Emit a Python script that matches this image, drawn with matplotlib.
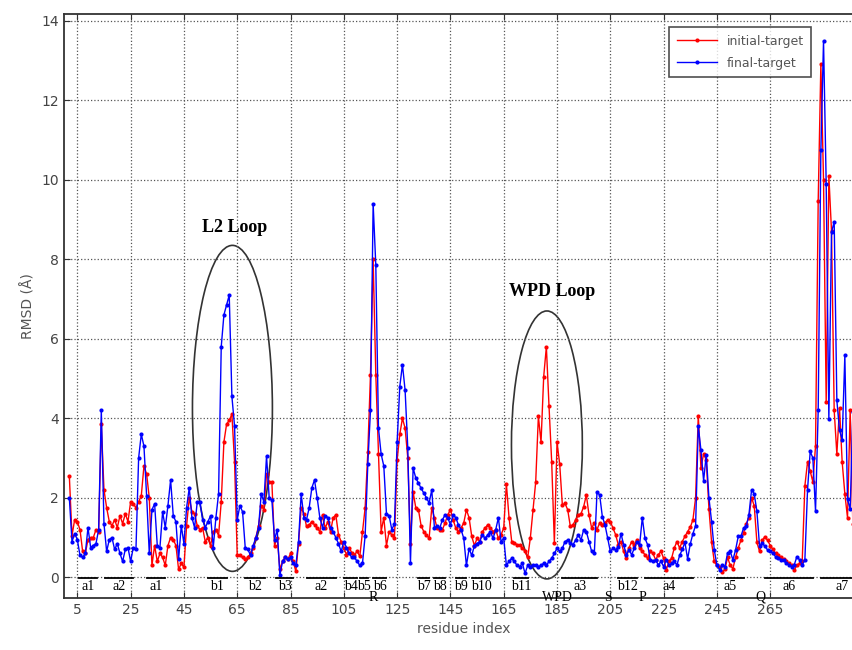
import numpy as np
import matplotlib
matplotlib.use('Agg')
import matplotlib.pyplot as plt
from matplotlib.patches import Ellipse

# RMSD per residue, starting at residue 2
final_target = [
    2.0, 0.9, 1.1, 0.95, 0.55, 0.5, 0.6, 1.25, 0.75, 0.8,
    0.85, 1.2, 4.2, 1.35, 0.65, 0.95, 1.0, 0.7, 0.85, 0.6,
    0.4, 0.7, 0.75, 0.4, 0.75, 0.7, 3.0, 3.6, 3.3, 2.05,
    0.6, 1.7, 1.85, 0.8, 0.75, 1.65, 1.25, 1.8, 2.45, 1.55,
    1.4, 0.45, 1.3, 0.85, 1.75, 2.25, 1.5, 1.25, 1.9, 1.9,
    1.45, 1.25, 1.4, 1.55, 0.75, 1.5, 2.1, 5.8, 6.6, 6.85,
    7.1, 4.55, 3.8, 1.45, 1.8, 1.65, 0.75, 0.7, 0.55, 0.8,
    1.0, 1.25, 2.1, 1.9, 3.05, 2.0, 1.95, 0.95, 1.2, 0.05,
    0.4, 0.5, 0.45, 0.5, 0.35, 0.3, 0.9, 2.1, 1.5, 1.45,
    1.75, 2.25, 2.45, 2.0, 1.5, 1.25, 1.55, 1.5, 1.25, 1.15,
    1.0, 0.85, 0.65, 0.9, 0.75, 0.6, 0.5, 0.5, 0.4, 0.3,
    0.35, 1.05, 2.85, 4.2, 9.4, 7.85, 3.75, 3.1, 2.8, 1.6,
    1.55, 1.2, 1.35, 3.4, 4.8, 5.35, 4.7, 3.25, 0.35, 2.75,
    2.5, 2.37, 2.24, 2.12, 2.0, 1.87, 2.2, 1.24, 1.3, 1.24,
    1.45, 1.57, 1.5, 1.32, 1.57, 1.5, 1.32, 1.2, 0.98, 0.3,
    0.72, 0.55, 0.8, 0.85, 0.9, 1.07, 0.98, 1.07, 1.15, 0.98,
    1.2, 1.5, 0.9, 0.98, 0.3, 0.4, 0.48, 0.4, 0.3, 0.27,
    0.35, 0.1, 0.3, 0.27, 0.3, 0.3, 0.27, 0.3, 0.35, 0.3,
    0.4, 0.48, 0.6, 0.73, 0.65, 0.73, 0.9, 0.94, 0.86, 0.82,
    0.94, 1.07, 0.94, 1.2, 1.15, 0.9, 0.65, 0.6, 2.15, 2.07,
    1.53, 1.32, 0.98, 0.65, 0.73, 0.69, 0.77, 1.1, 0.82, 0.57,
    0.69, 0.57, 0.73, 0.9, 0.82, 1.5, 0.98, 0.82, 0.44, 0.4,
    0.44, 0.31, 0.4, 0.27, 0.44, 0.31, 0.35, 0.4, 0.31, 0.55,
    0.7, 0.88, 0.46, 0.84, 1.1, 1.3, 3.8, 3.2, 2.43, 3.08,
    2.0, 1.4, 0.69, 0.31, 0.19, 0.31, 0.27, 0.61, 0.65, 0.44,
    0.69, 1.03, 1.03, 1.24, 1.28, 1.57, 2.2, 2.1, 1.66, 0.78,
    0.86, 0.78, 0.69, 0.65, 0.61, 0.52, 0.48, 0.44, 0.44, 0.36,
    0.31, 0.27, 0.31, 0.52, 0.44, 0.31, 0.44, 2.2, 3.17, 3.0,
    1.66, 4.2, 10.74, 13.5, 9.9, 3.98, 8.68, 8.95, 4.45, 3.7,
    3.46, 5.58, 1.96, 1.72, 4.17, 5.48, 3.0,
]

initial_target = [
    2.55, 1.05, 1.45, 1.4, 1.2, 0.65, 0.6, 0.95, 1.0, 1.0,
    1.2, 1.15, 3.85, 2.2, 1.75, 1.4, 1.3, 1.45, 1.25, 1.55,
    1.35, 1.6, 1.4, 1.9, 1.85, 1.75, 1.9, 2.05, 2.8, 2.6,
    2.0, 0.3, 0.8, 0.4, 0.6, 0.5, 0.3, 0.8, 1.0, 0.95,
    0.8, 0.2, 0.35, 0.25, 1.3, 2.0, 1.65, 1.6, 1.3, 1.2,
    1.25, 0.9, 1.0, 0.8, 1.15, 1.2, 1.05, 1.9, 3.4, 3.85,
    3.95, 4.1, 2.9, 0.55, 0.55, 0.5, 0.45, 0.5, 0.6, 0.75,
    1.0, 1.3, 1.8, 1.7, 2.6, 2.4, 2.4, 0.8, 1.0, 0.2,
    0.4, 0.5, 0.45, 0.6, 0.4, 0.15, 0.85, 1.75, 1.6, 1.28,
    1.32, 1.4, 1.32, 1.24, 1.15, 1.57, 1.24, 1.4, 1.15, 1.5,
    1.57, 1.07, 0.9, 0.74, 0.57, 0.74, 0.62, 0.57, 0.65, 0.53,
    1.15, 1.75, 3.15, 5.1, 8.0, 5.1, 3.1, 1.15, 1.5, 0.8,
    1.15, 1.07, 0.98, 2.95, 3.6, 4.0, 3.75, 3.0, 0.85, 2.15,
    1.75, 1.7, 1.3, 1.15, 1.07, 0.98, 1.75, 1.5, 1.24, 1.2,
    1.2, 1.37, 1.57, 1.7, 1.45, 1.24, 1.15, 1.24, 1.37, 1.7,
    1.5, 1.03, 0.8, 0.98, 0.9, 1.15, 1.24, 1.32, 1.24, 1.15,
    1.2, 0.98, 1.07, 1.24, 2.35, 1.5, 0.9, 0.86, 0.82, 0.82,
    0.74, 0.65, 0.5, 1.0, 1.7, 2.4, 4.05, 3.4, 5.05, 5.8,
    4.3, 2.9, 0.86, 3.4, 2.85, 1.82, 1.86, 1.7, 1.28, 1.32,
    1.45, 1.57, 1.6, 1.78, 2.07, 1.57, 1.24, 1.37, 1.2, 1.37,
    1.32, 1.37, 1.45, 1.4, 1.24, 1.07, 0.82, 0.9, 0.65, 0.48,
    0.74, 0.9, 0.82, 0.95, 0.74, 0.65, 0.57, 0.48, 0.65, 0.6,
    0.44, 0.57, 0.65, 0.48, 0.19, 0.4, 0.48, 0.74, 0.9, 0.74,
    0.9, 1.03, 1.15, 1.26, 1.45, 2.0, 4.07, 2.76, 3.1, 2.95,
    1.73, 0.88, 0.4, 0.3, 0.25, 0.13, 0.2, 0.5, 0.3, 0.22,
    0.5, 0.74, 0.93, 1.12, 1.35, 1.5, 2.0, 1.8, 0.88, 0.65,
    0.93, 1.02, 0.93, 0.8, 0.7, 0.6, 0.55, 0.5, 0.45, 0.4,
    0.35, 0.3, 0.18, 0.3, 0.35, 0.4, 2.3, 2.9, 2.67, 2.4,
    3.3, 9.47, 12.9, 10.0, 4.4, 10.1, 8.7, 4.2, 3.1, 4.26,
    2.9, 2.1, 1.5, 4.2, 1.35, 1.6, 1.5,
]

residues = np.arange(2, 2 + len(final_target))

# secondary structure elements: label, start, end
ss_labels = ['a1', 'a2', 'a1', 'b1', 'b2', 'b3', 'a2', 'b4', 'b5', 'b6',
             'b7', 'b8', 'b9', 'b10', 'b11', 'a3', 'b12', 'a4', 'a5', 'a6', 'a7']
ss_start = [5.5, 15.5, 31, 54, 68, 79.5, 91, 105, 111, 116,
            133, 139, 147, 153, 169, 187, 208, 218, 245, 263, 284]
ss_end = [12.5, 26, 38, 61, 75.5, 86, 102, 110, 114, 121,
          137, 143, 151, 160, 174, 200, 215, 236, 255, 281, 300]

# motifs under the axis
motif_labels = ['R', 'WPD', 'S', 'P', 'Q']
motif_pos = [116, 185, 204, 217, 261.5]

xtick_vals = list(range(5, 266, 20))
ytick_vals = list(range(0, 15, 2))

fig = plt.figure(figsize=(8.52, 6.5), dpi=100)
ax = fig.add_axes([64 / 852, 52 / 650, 799.5 / 852, 584 / 650])

ax.plot(residues, initial_target, color='red', marker='o', markersize=3,
        markeredgewidth=0, linewidth=1.0, label='initial-target')
ax.plot(residues, final_target, color='blue', marker='o', markersize=3,
        markeredgewidth=0, linewidth=1.0, label='final-target')

ax.set_xlim(0, 300)
ax.set_ylim(-0.52, 14.17)
ax.set_xticks(xtick_vals)
ax.set_yticks(ytick_vals)
ax.grid(True, linestyle=':', color='#555555', linewidth=0.9)
ax.tick_params(direction='in', top=True, right=True, length=4,
               labelsize=10, labelcolor='#444444', color='#333333')
for s in ax.spines.values():
    s.set_color('#333333')
    s.set_linewidth(1.3)

ax.set_xlabel('residue index', fontsize=10, color='#555555')
ax.set_ylabel('RMSD (Å)', fontsize=10, color='#555555')

# loops
ax.add_patch(Ellipse((63.2, 4.25), 30, 8.2, fill=False, edgecolor='#333333', linewidth=1.2))
ax.add_patch(Ellipse((181.2, 3.33), 26.6, 6.74, fill=False, edgecolor='#333333', linewidth=1.2))
ax.text(63.9, 8.8, 'L2 Loop', family='Liberation Serif', fontweight='bold',
        fontsize=13, ha='center', va='center')
ax.text(183, 7.2, 'WPD Loop', family='Liberation Serif', fontweight='bold',
        fontsize=13, ha='center', va='center')

# secondary structure bars and labels
for lab, a, b in zip(ss_labels, ss_start, ss_end):
    ax.plot([a, b], [-0.02, -0.02], color='black', linewidth=1.3, clip_on=False)
    ax.text((a + b) / 2, -0.22, lab, family='Liberation Serif', fontsize=10,
            ha='center', va='center', clip_on=False)
for lab, p in zip(motif_labels, motif_pos):
    ax.text(p, -0.5, lab, family='Liberation Serif', fontsize=10,
            ha='center', va='center', clip_on=False)

leg = fig.legend(loc='upper left', bbox_to_anchor=(663 / 852, 1 - 21 / 650),
                 fontsize=9, frameon=True, fancybox=False, handlelength=3.2,
                 borderpad=0.6, labelspacing=0.7)
leg.get_frame().set_edgecolor('#222222')
leg.get_frame().set_linewidth(1.2)
for t in leg.get_texts():
    t.set_color('#555555')

fig.savefig('out.png', dpi=100)
